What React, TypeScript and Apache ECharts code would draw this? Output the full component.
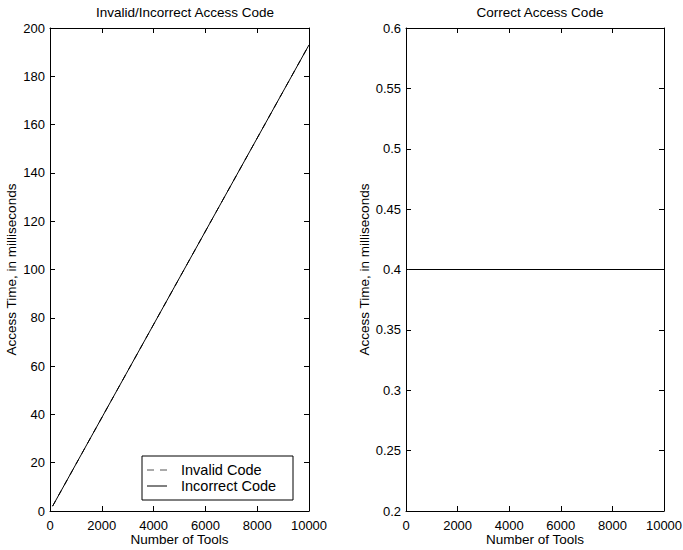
import React, { useEffect, useRef } from "react";
import * as echarts from "echarts";

const leftTitle = "Invalid/Incorrect Access Code";
const rightTitle = "Correct Access Code";
const xName = "Number of Tools";
const yName = "Access Time, in milliseconds";
const seriesNames = ["Invalid Code", "Incorrect Code"];

const toolCounts = [100, 10000];
const invalidTimes = [2, 193];
const incorrectTimes = [2, 193];
const correctInvalidTimes = [0.4, 0.4];
const correctTimes = [0.4, 0.4];

const FONT = "Liberation Sans, Arial, Helvetica, sans-serif";

export default function App() {
  const ref = useRef<HTMLDivElement>(null);
  useEffect(() => {
    if (!ref.current) return;
    const chart = echarts.init(ref.current, null, { renderer: "svg" });
    const axisLine = { show: true, onZero: false, lineStyle: { color: "#000", width: 1 } };
    const tick = { show: true, inside: true, length: 5, lineStyle: { color: "#000" } };
    const lbl = { color: "#000", fontSize: 13, fontFamily: FONT };
    const mkX = (grid: number, pos: "bottom" | "top", labels: boolean) => ({
      type: "value",
      gridIndex: grid,
      position: pos,
      min: 0,
      max: 10000,
      interval: 2000,
      axisLine,
      axisTick: tick,
      splitLine: { show: false },
      axisLabel: labels ? { ...lbl, margin: 8, formatter: (v: number) => String(v) } : { show: false },
      name: labels ? xName : "",
      nameLocation: "middle",
      nameGap: 21,
      nameMoveOverlap: false,
      nameTextStyle: { color: "#000", fontSize: 13.5, fontFamily: FONT },
    });
    const mkY = (grid: number, pos: "left" | "right", labels: boolean, min: number, max: number, interval: number, nameGap: number) => ({
      type: "value",
      gridIndex: grid,
      position: pos,
      min,
      max,
      interval,
      axisLine,
      axisTick: tick,
      splitLine: { show: false },
      axisLabel: labels ? { ...lbl, margin: 5, formatter: (v: number) => String(Math.round(v * 1000) / 1000) } : { show: false },
      name: labels ? yName : "",
      nameLocation: "middle",
      nameGap,
      nameTextStyle: { color: "#000", fontSize: 13.5, fontFamily: FONT },
    });
    const lineSeries = (name: string, xi: number, yi: number, ys: number[], dashed: boolean, color = "#000") => ({
      name,
      type: "line",
      xAxisIndex: xi,
      yAxisIndex: yi,
      data: toolCounts.map((x, i) => [x, ys[i]]),
      symbol: "none",
      lineStyle: { color, width: 1, type: dashed ? [6, 6] : "solid" },
      itemStyle: { color },
    });
    const legendX = 142;
    const legendY = 456;
    const rowY = [legendY + 14, legendY + 30];
    chart.setOption({
      animation: false,
      backgroundColor: "#fff",
      title: [
        { text: leftTitle, left: 180, top: 0, textAlign: "center", textStyle: { fontSize: 13.5, fontWeight: "normal", color: "#000", fontFamily: FONT } },
        { text: rightTitle, left: 535, top: 0, textAlign: "center", textStyle: { fontSize: 13.5, fontWeight: "normal", color: "#000", fontFamily: FONT } },
      ],
      grid: [
        { left: 50, right: 374, top: 28, bottom: 39, outerBoundsMode: "none", containLabel: false },
        { left: 406, right: 19, top: 28, bottom: 39, outerBoundsMode: "none", containLabel: false },
      ],
      xAxis: [mkX(0, "bottom", true), mkX(0, "top", false), mkX(1, "bottom", true), mkX(1, "top", false)],
      yAxis: [
        mkY(0, "left", true, 0, 200, 20, 32),
        mkY(0, "right", false, 0, 200, 20, 32),
        mkY(1, "left", true, 0.2, 0.6, 0.05, 35),
        mkY(1, "right", false, 0.2, 0.6, 0.05, 35),
      ],
      graphic: [
        {
          type: "group",
          z: 100,
          children: [
            { type: "rect", shape: { x: legendX, y: legendY, width: 151, height: 44 }, style: { fill: "#fff", stroke: "#000", lineWidth: 1 } },
            { type: "line", shape: { x1: legendX + 5, y1: rowY[0], x2: legendX + 25, y2: rowY[0] }, style: { stroke: "#555", lineWidth: 1, lineDash: [7, 6] } },
            { type: "line", shape: { x1: legendX + 5, y1: rowY[1], x2: legendX + 25, y2: rowY[1] }, style: { stroke: "#000", lineWidth: 1 } },
            { type: "text", x: legendX + 39, y: rowY[0], style: { text: seriesNames[0], fontSize: 14.5, lineHeight: 14, fontFamily: FONT, fill: "#000", verticalAlign: "middle" } },
            { type: "text", x: legendX + 39, y: rowY[1], style: { text: seriesNames[1], fontSize: 14.5, lineHeight: 14, fontFamily: FONT, fill: "#000", verticalAlign: "middle" } },
          ],
        },
      ],
      series: [
        lineSeries(seriesNames[0], 0, 0, invalidTimes, true),
        lineSeries(seriesNames[1], 0, 0, incorrectTimes, false),
        lineSeries("Correct " + seriesNames[0], 2, 2, correctInvalidTimes, true, "#777"),
        lineSeries("Correct " + seriesNames[1], 2, 2, correctTimes, false),
      ],
    });
    return () => chart.dispose();
  }, []);
  return <div ref={ref} style={{ width: 683, height: 550, position: "absolute", left: 0, top: 0 }} />;
}
